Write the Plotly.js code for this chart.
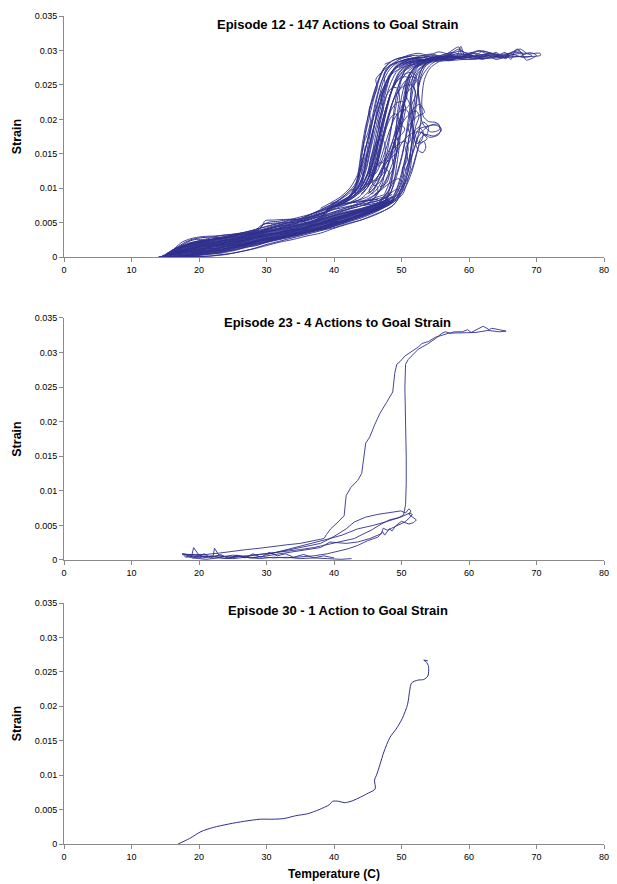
<!DOCTYPE html>
<html>
<head>
<meta charset="utf-8">
<script src="https://cdn.plot.ly/plotly-3.0.1.min.js"></script>
<style>
  html, body { margin: 0; padding: 0; background: #ffffff; }
  #chart { width: 617px; height: 884px; }
</style>
</head>
<body>
<div id="chart"></div>
<script>
// ---------------- Data ----------------
const panelTitles = [
  'Episode 12 - 147 Actions to Goal Strain',
  'Episode 23 - 4 Actions to Goal Strain',
  'Episode 30 - 1 Action to Goal Strain'
];
const xAxisTitle = 'Temperature (C)';
const yAxisTitle = 'Strain';
const xTickVals = [0, 10, 20, 30, 40, 50, 60, 70, 80];
const xTickText = ['0', '10', '20', '30', '40', '50', '60', '70', '80'];
const yTickVals = [0, 0.005, 0.01, 0.015, 0.02, 0.025, 0.03, 0.035];
const yTickText = ['0', '0.005', '0.01', '0.015', '0.02', '0.025', '0.03', '0.035'];

// Episode 12: full / partial heating-cooling passes of [temperature, strain]
const ep12Passes = [
  [[14,0],[15.5,0.0004],[17,0.0009],[18.5,0.0012],[20,0.0015],[22,0.0018],[24,0.0021],[26,0.0025],[28,0.0029],[30,0.0033],[32,0.0036],[34,0.004],[36,0.0044],[38,0.0049],[40,0.0054],[42,0.006],[44,0.0065],[46,0.0071],[47.5,0.0076],[48.5,0.0083],[49.2,0.0095],[49.8,0.011],[50.3,0.013],[50.8,0.0155],[51.2,0.018],[51.8,0.0205],[52.3,0.0235],[53,0.0262],[54.5,0.0281],[56,0.0288],[58,0.0292],[60,0.029],[62,0.0294],[63,0.0293],[61,0.0291],[58,0.029],[55,0.0288],[52,0.0286],[50,0.0282],[48.8,0.0272],[48,0.0255],[47.3,0.0232],[46.6,0.0205],[46,0.018],[45.4,0.0155],[44.8,0.0128],[44,0.0106],[42.8,0.0092],[41,0.0079],[39,0.0068],[37,0.006],[35,0.0052],[33,0.0046],[31,0.004],[29,0.0035],[27,0.0029],[25,0.0024],[23,0.002],[21,0.0016],[19,0.0012],[17,0.0006]],
  [[15,0.0002],[17,0.0004],[19,0.0007],[21,0.001],[23,0.0014],[25,0.0017],[27,0.0021],[29,0.0026],[31,0.003],[33,0.0034],[35,0.0037],[37,0.0042],[39,0.0046],[41,0.0052],[43,0.0058],[45,0.0064],[46.8,0.0072],[48.3,0.0078],[49.4,0.0088],[50.2,0.0104],[50.9,0.0128],[51.4,0.0158],[51.8,0.019],[52.2,0.0222],[52.6,0.0252],[53.4,0.0275],[55,0.0287],[57,0.0293],[59,0.0295],[61,0.0292],[63,0.0296],[65,0.0293],[67,0.0297],[69,0.0295],[70.5,0.0296],[70.6,0.0293],[68,0.0291],[65,0.0292],[62,0.029],[59,0.0291],[56,0.0289],[53,0.0287],[51,0.0286],[49.5,0.0281],[48.5,0.0268],[47.8,0.0245],[47.2,0.022],[46.7,0.0192],[46.2,0.0165],[45.6,0.0138],[44.8,0.0115],[43.8,0.0098],[42.3,0.0085],[40.5,0.0074],[38.5,0.0064],[36,0.0056],[33.5,0.0049],[31,0.0043],[28.5,0.0036],[26,0.0031],[23.5,0.0027],[21,0.0022],[19,0.0018],[17.5,0.0014],[16,0.0008],[14.5,0.0002]],
  [[18,0.0003],[20,0.0006],[22,0.0009],[24,0.0013],[26,0.0018],[28,0.0022],[30,0.0025],[32,0.0029],[34,0.0032],[36,0.0037],[38,0.0042],[40,0.0047],[42,0.0054],[44,0.006],[46,0.0067],[47.6,0.0074],[48.8,0.0085],[49.6,0.01],[50.2,0.0118],[50.6,0.0138],[51,0.0158],[50.6,0.0168],[49.8,0.0166],[48.8,0.0158],[47.9,0.0145],[47,0.0128],[46.2,0.011],[45.2,0.0096],[44,0.0085],[42,0.0077],[40,0.007],[38,0.0063],[36,0.0057],[34,0.0052],[32,0.0047],[30,0.0041],[28,0.0036],[26,0.0032],[24,0.0028],[22,0.0025],[20,0.0021],[18,0.0015],[16.5,0.0009],[15,0.0003]],
  [[16,0.0001],[18,0.0003],[20,0.0008],[22,0.0011],[24,0.0016],[26,0.002],[28,0.0023],[30,0.0028],[32,0.0031],[34,0.0035],[36,0.0039],[38,0.0044],[40,0.005],[42,0.0055],[44,0.0062],[46,0.0069],[47.8,0.0079],[49,0.0093],[49.8,0.0115],[50.5,0.0142],[51.1,0.0172],[51.5,0.02],[51.9,0.0225],[52,0.0242],[51.4,0.025],[50.3,0.0248],[49.3,0.0238],[48.5,0.022],[47.8,0.0198],[47.2,0.0175],[46.6,0.0152],[45.9,0.013],[45,0.0112],[44,0.0098],[42.5,0.0086],[40.5,0.0077],[38.5,0.0068],[36.5,0.006],[34.5,0.0054],[32.5,0.0049],[30.5,0.0044],[28.5,0.0038],[26.5,0.0034],[24.5,0.003],[22.5,0.0027],[20.5,0.0023],[18.5,0.0019],[17,0.0013]],
  [[14.5,0.0001],[16.5,0.0006],[18.5,0.001],[20.5,0.0013],[22.5,0.0016],[24.5,0.0019],[26.5,0.0024],[28.5,0.0028],[30.5,0.0032],[32.5,0.0038],[34.5,0.0041],[36.5,0.0045],[38.5,0.005],[40.5,0.0055],[42.5,0.0062],[44.5,0.0068],[46.2,0.0074],[47.4,0.008],[48.2,0.009],[48.8,0.0106],[49.2,0.0128],[49.6,0.0155],[49.9,0.0185],[50.3,0.0215],[50.7,0.0245],[51.5,0.027],[52.8,0.0284],[54.5,0.029],[56.5,0.0294],[58.5,0.0305],[59,0.0293],[61,0.0296],[62.5,0.0291],[64,0.0297],[65.5,0.0288],[66,0.0296],[67.5,0.0299],[68,0.0293],[66,0.029],[63,0.0289],[60,0.0287],[57,0.0289],[54,0.0286],[51.5,0.0284],[49.5,0.0278],[48.2,0.0265],[47.3,0.024],[46.5,0.0212],[45.8,0.0185],[45.1,0.0158],[44.4,0.0132],[43.6,0.011],[42.4,0.0094],[40.8,0.0083],[39,0.0072],[37,0.0064],[35,0.0056],[33,0.0052],[31,0.0047],[29,0.0042],[27,0.0037],[25,0.0032],[23,0.0028],[21,0.0025],[19,0.002],[17.3,0.0014],[15.8,0.0007]],
  [[30,0.0024],[32,0.0028],[34,0.0033],[36,0.0036],[38,0.004],[40,0.0045],[42,0.0051],[44,0.0057],[45.8,0.0064],[47.2,0.0071],[48.4,0.008],[49.4,0.0094],[50.3,0.0114],[51,0.0138],[51.6,0.0165],[52.1,0.019],[52.6,0.0205],[52.2,0.0212],[51.2,0.0208],[50.2,0.0196],[49.4,0.018],[48.7,0.016],[48.1,0.0138],[47.4,0.0118],[46.6,0.0102],[45.6,0.0092],[45.2,0.0097],[46,0.011],[47,0.0124],[48,0.0142],[48.9,0.0165],[49.7,0.0192],[50.3,0.022],[50.9,0.0248],[51.8,0.027],[53.2,0.0283],[55,0.0288],[57,0.0291],[58.5,0.0289],[56,0.0287],[53.5,0.0285],[51,0.0282],[49.2,0.0274],[47.9,0.0258],[46.9,0.0235],[46,0.0208],[45.2,0.0178],[44.5,0.015],[43.9,0.0125],[43,0.0104],[41.5,0.0089],[39.5,0.0076],[37.5,0.0066],[35.5,0.0058],[33.5,0.0051],[31.5,0.0045],[29.5,0.0039]],
  [[38,0.0039],[40,0.0043],[42,0.0049],[44,0.0054],[46,0.0061],[47.5,0.0068],[48.8,0.0076],[49.6,0.0086],[50.3,0.01],[50.8,0.0118],[51.3,0.0138],[51.9,0.0158],[52.5,0.0175],[53.3,0.0185],[54.5,0.0192],[55.8,0.0188],[55.5,0.0178],[54.2,0.0174],[53.2,0.018],[52.3,0.0182],[51.2,0.0178],[50.2,0.0168],[49.3,0.0152],[48.5,0.0132],[47.7,0.0113],[46.8,0.0098],[45.6,0.0087],[44,0.0078],[42,0.007],[40,0.0063],[38,0.0057],[36,0.0051],[34,0.0046]],
  [[20,0.0005],[22,0.0008],[24,0.0012],[26,0.0015],[28,0.0019],[30,0.0022],[32,0.0026],[34,0.003],[36,0.0035],[38,0.004],[40,0.0046],[42,0.0053],[44,0.0059],[45.8,0.0066],[47,0.0074],[47.8,0.0086],[48.4,0.0104],[48.9,0.0128],[49.3,0.0155],[49.7,0.0182],[50,0.021],[50.4,0.0236],[51,0.026],[52,0.0276],[53.5,0.0286],[55.5,0.0292],[57.5,0.0297],[59.5,0.0293],[61.5,0.0299],[63,0.0294],[64.5,0.0292],[63,0.0289],[60.5,0.0288],[58,0.0286],[55,0.0284],[52.5,0.0281],[50.3,0.0276],[48.6,0.0266],[47.4,0.0248],[46.5,0.0225],[45.7,0.0198],[45,0.017],[44.3,0.0143],[43.7,0.0118],[43,0.0098],[41.8,0.0085],[40,0.0075],[38,0.0067],[36,0.0061],[34,0.0056],[32,0.005],[30,0.0045],[28,0.0039],[26,0.0034],[24,0.003],[22,0.0026],[20,0.0022],[18,0.0018],[16,0.001]],
  [[36,0.0045],[38,0.0055],[39,0.0068],[40.5,0.0075],[41.8,0.0082],[43,0.0096],[43.6,0.0118],[44,0.0145],[44.5,0.0172],[45.1,0.0198],[45.7,0.0222],[46.3,0.0245],[46.9,0.0263],[47.6,0.0276],[48.8,0.0286],[50.5,0.0291],[52.5,0.0293],[54,0.0291],[52,0.0288],[50,0.0285],[48.5,0.0279],[47.6,0.0268],[46.9,0.0252],[46.2,0.0228],[45.6,0.02],[45,0.0172],[44.3,0.0145],[43.5,0.012],[42.4,0.0101],[41,0.0088],[39.5,0.0079],[38,0.0071]],
  [[44,0.0063],[46,0.007],[47.8,0.0077],[49.2,0.0083],[50.2,0.0092],[50.8,0.0108],[51.3,0.0128],[51.6,0.0152],[52,0.0175],[52.6,0.0186],[53.8,0.019],[55.5,0.0193],[55.6,0.0185],[54.3,0.0182],[53.1,0.0195],[52.7,0.0215],[52.5,0.0238],[52.6,0.026],[53.3,0.0278],[54.8,0.0288],[57,0.0291],[59,0.029],[57.5,0.0287],[55,0.0286],[52.5,0.0284],[50.5,0.0279],[49.2,0.0268],[48.3,0.025],[47.6,0.0228],[47,0.0202],[46.4,0.0176],[45.8,0.015],[45.1,0.0126],[44.3,0.0107],[43.2,0.0092],[41.5,0.0082],[39.5,0.0073]],
  [[46,0.0072],[47.3,0.008],[48.3,0.0092],[49.1,0.0112],[49.8,0.0135],[50.4,0.016],[50.9,0.0186],[51.2,0.0205],[50.7,0.0214],[49.8,0.0212],[49,0.0202],[48.3,0.0186],[47.6,0.0165],[47,0.0145],[46.6,0.0132],[47.2,0.0138],[48,0.0152],[48.8,0.0172],[49.6,0.0196],[50.3,0.0222],[50.9,0.0246],[51.2,0.0258],[50.6,0.0262],[49.6,0.0258],[48.7,0.0245],[48,0.0226],[47.3,0.0202],[46.7,0.0178],[46.1,0.0152],[45.5,0.0128],[44.8,0.0108],[43.8,0.0094],[42.3,0.0083],[40.5,0.0074]],
  [[15,0],[17,0.0002],[19,0.0005],[21,0.0008],[23,0.0011],[25,0.0014],[27,0.0018],[29,0.0021],[31,0.0026],[33,0.003],[35,0.0034],[37,0.0038],[39,0.0043],[41,0.0048],[43,0.0055],[45,0.0062],[46.7,0.0069],[48,0.0076],[49,0.0084],[49.7,0.0094],[50.1,0.0108],[49.6,0.0114],[48.6,0.011],[47.5,0.0102],[46.3,0.0092],[44.8,0.0084],[43,0.0076],[41,0.0069],[39,0.0062],[37,0.0056],[35,0.005],[33,0.0045],[31,0.004],[29,0.0036],[27,0.0031],[25,0.0027],[23,0.0023],[21,0.0019],[19,0.0014],[17,0.0008],[15.5,0.0003]],
  [[15.5,0.0005],[16.5,0.0014],[17.5,0.0022],[18.8,0.0027],[20.5,0.003],[22.5,0.0031],[24.5,0.0033],[26.5,0.0035],[28.5,0.0038],[29.3,0.0045],[29.8,0.0053],[31,0.0054],[33,0.0055],[34.5,0.0055],[35,0.0052],[37,0.0057],[38.5,0.0062],[39,0.007],[40,0.0074],[41.5,0.0078],[43,0.0081],[44.5,0.0082],[46,0.0084],[47.5,0.0088],[48.5,0.0094],[47.5,0.0091],[46,0.0086],[44,0.0078],[42,0.0072],[40,0.0066],[38,0.006],[36,0.0054],[34,0.0049],[32,0.0045],[30,0.004],[28,0.0034],[26,0.0029],[24,0.0025],[22,0.0022],[20,0.0018],[18,0.0013],[16.5,0.0008]],
  [[14,0.0001],[16,0.0001],[18,0.0001],[20,0.0001],[22,0.0002],[24,0.0004],[26,0.0008],[28,0.0012],[30,0.0017],[32,0.0022],[34,0.0026],[36,0.0031],[38,0.0035],[40,0.0042],[42,0.0048],[44,0.0054],[46,0.0062],[47.5,0.0068],[48.6,0.0074],[49.3,0.0082],[49.7,0.0093],[49.5,0.0099],[48.8,0.0096],[47.8,0.0088],[46.5,0.0079],[45,0.0072],[43,0.0066],[41,0.0059],[39,0.0052],[37,0.0046],[35,0.004],[33,0.0035],[31,0.0029],[29,0.0024],[27,0.0018],[25,0.0013],[23,0.0008],[21,0.0004],[19,0.0002],[17,0.0001]],
  [[47,0.0085],[48,0.0095],[48.8,0.011],[49.5,0.0128],[50.1,0.015],[50.6,0.0175],[51,0.02],[51.4,0.0225],[51.8,0.0248],[52.2,0.0262],[51.6,0.0268],[50.5,0.0266],[49.5,0.0258],[48.6,0.0242],[47.8,0.022],[47.1,0.0196],[46.5,0.017],[45.9,0.0146],[45.3,0.0125],[44.5,0.011],[45,0.0106],[46,0.0112],[47,0.0125],[47.8,0.0142],[48.5,0.0162],[49.1,0.0185],[49.6,0.021],[50,0.0232],[50.5,0.0252],[51.3,0.0268],[52.5,0.0279],[54,0.0285],[55.5,0.0287],[54,0.0284],[52,0.028],[50.4,0.0272],[49.3,0.0258],[48.4,0.0238],[47.7,0.0214],[47.1,0.019],[46.4,0.0162],[45.7,0.0136],[45,0.0114],[44,0.0098],[42.6,0.0087]],
  [[50,0.0284],[51.5,0.0289],[53,0.0292],[54.5,0.0295],[56,0.0291],[57.5,0.0297],[58.5,0.0302],[59.5,0.0296],[61,0.0293],[62,0.0299],[63.5,0.0295],[65,0.0291],[66.5,0.0298],[67.2,0.0302],[68,0.0294],[69,0.0297],[70,0.0293],[68.5,0.0286],[67.8,0.0295],[66,0.0293],[64,0.0287],[62.5,0.0294],[61,0.0288],[59,0.0291],[57,0.0285],[55,0.029],[53,0.0286],[51,0.0283],[49.6,0.0275]],
  [[48,0.0078],[49.5,0.0088],[50.6,0.0102],[51.4,0.012],[52,0.014],[52.5,0.016],[52.8,0.0172],[53.5,0.0178],[54.8,0.0176],[55.9,0.0184],[55.2,0.0195],[54,0.0197],[53.2,0.0205],[53,0.0222],[53.1,0.024],[53.4,0.0258],[54.2,0.0274],[55.6,0.0284],[57.5,0.029],[59.5,0.0294],[60.5,0.0292],[58,0.0288],[55.5,0.0286],[53,0.0284],[51.2,0.0279],[49.9,0.027],[49,0.0255],[48.3,0.0235],[47.7,0.021],[47.2,0.0185],[46.7,0.016],[46.1,0.0135],[45.3,0.0113],[44.2,0.0097],[42.8,0.0086],[41,0.0077],[39,0.0069]],
  [[33,0.0043],[35,0.0047],[37,0.0053],[38.5,0.0062],[39.2,0.0072],[40.3,0.0078],[41.5,0.0083],[42.6,0.0093],[43.3,0.0108],[43.7,0.013],[44.1,0.0158],[44.6,0.0186],[45.2,0.021],[45.9,0.0236],[46.6,0.0258],[47.3,0.0273],[48.3,0.0283],[49.8,0.0289],[51.5,0.0292],[50,0.0288],[48.7,0.0281],[47.8,0.0271],[47.1,0.0256],[46.5,0.0236],[46,0.0212],[45.5,0.0186],[45,0.016],[44.6,0.0136],[44.2,0.0116],[43.5,0.0101],[42.5,0.009],[41,0.0082],[39.5,0.0076],[38,0.0069],[36,0.006]],
  [[47.5,0.0092],[48.2,0.0108],[48.7,0.0126],[49.2,0.0146],[49.6,0.0168],[50.1,0.0192],[50.6,0.0218],[50.2,0.0226],[49.3,0.0224],[48.5,0.0214],[47.9,0.0198],[47.3,0.0176],[46.8,0.0152],[46.3,0.0128],[45.7,0.0111],[46.4,0.0112],[47.3,0.0122],[48.1,0.0138],[48.8,0.0158],[49.4,0.018],[50,0.0204],[50.6,0.0228],[51.3,0.0252],[52.2,0.027],[53.6,0.0281],[52,0.0278],[50.7,0.0272],[49.6,0.0262],[48.7,0.0246],[48,0.0226],[47.4,0.0204],[46.9,0.018],[46.4,0.0156],[45.9,0.0132],[45.3,0.0112],[44.4,0.0098]],
  [[45,0.0092],[45.8,0.0098],[46.5,0.011],[47.2,0.0128],[47.6,0.015],[47.4,0.0168],[46.8,0.0172],[46.2,0.0165],[45.6,0.015],[45.2,0.013],[45.4,0.0118],[46.2,0.0122],[47,0.0138],[47.8,0.016],[48.4,0.0185],[49,0.021],[49.5,0.0235],[49.9,0.0255],[50.5,0.0272],[51.5,0.0283],[50,0.0281],[48.8,0.0272],[47.8,0.0255],[47,0.0232],[46.3,0.0205],[45.6,0.0178],[45,0.015],[44.5,0.0125],[43.9,0.0105],[42.8,0.0092]],
  [[49,0.0083],[49.8,0.0092],[50.5,0.0108],[51,0.0125],[51.3,0.0145],[51.5,0.0165],[51.9,0.0183],[52.6,0.0188],[53.2,0.0182],[53,0.017],[52.3,0.0165],[51.8,0.0172],[51.5,0.019],[51.3,0.021],[51.3,0.023],[51.6,0.025],[52.2,0.0266],[53,0.0276],[54.5,0.0284],[53.5,0.0281],[52.2,0.0278],[51,0.027],[50,0.0258],[49.2,0.024],[48.5,0.0218],[47.9,0.0195],[47.3,0.017],[46.7,0.0145],[46,0.0122],[45.2,0.0104],[44,0.0092]],
  [[46.5,0.0078],[47.5,0.0088],[48.2,0.01],[48.6,0.0118],[48.9,0.014],[49.1,0.0162],[49.2,0.0185],[49.4,0.021],[49.7,0.0232],[49.4,0.0245],[48.6,0.0246],[47.8,0.0235],[47.1,0.0215],[46.5,0.0192],[46,0.0168],[45.5,0.0142],[44.9,0.012],[44.1,0.0104],[43.2,0.0095],[42.5,0.009],[43.5,0.0102],[44.3,0.012],[44.9,0.0145],[45.5,0.017],[46.1,0.0195],[46.8,0.022],[47.5,0.0242],[48.3,0.0262],[49.3,0.0276],[50.8,0.0285],[52.5,0.029],[51,0.0287]],
  [[50,0.0098],[50.8,0.0112],[51.6,0.013],[52.2,0.015],[52.6,0.0162],[53.3,0.0168],[53.6,0.016],[53.2,0.0152],[52.5,0.0155],[52,0.0168],[51.7,0.0188],[51.5,0.021],[51.4,0.0232],[51.5,0.0252],[51.9,0.0268],[52.8,0.028],[54.3,0.0288],[56,0.0291],[54.5,0.0288],[52.5,0.0285],[50.8,0.0279],[49.6,0.0268],[48.8,0.025],[48.2,0.0228],[47.6,0.0205],[47,0.0182],[46.4,0.0158],[45.8,0.0135],[45.1,0.0115],[44.1,0.0099],[42.9,0.0089]],
  [[44.5,0.0075],[45.4,0.008],[46.2,0.0088],[46.8,0.0098],[47.3,0.0112],[47.5,0.0128],[47.2,0.0138],[46.6,0.0136],[46,0.0126],[45.6,0.0112],[45.9,0.0104],[46.7,0.0108],[47.5,0.012],[48.2,0.0138],[48.8,0.016],[49.3,0.0184],[49.6,0.02],[49.2,0.0208],[48.5,0.0204],[47.9,0.0192],[47.3,0.0174],[46.8,0.0154],[46.2,0.0132],[45.6,0.0114],[44.8,0.0099],[43.8,0.0088],[42.5,0.008]],
  [[47.5,0.028],[48.3,0.0283],[47.5,0.0275],[46.8,0.0262],[46.1,0.0245],[45.5,0.0225],[45,0.0202],[44.6,0.0178],[44.2,0.0152],[43.9,0.0128],[43.6,0.0108],[43,0.0095],[42,0.0085],[41,0.008],[42.2,0.0088],[43.3,0.0098],[44.1,0.0112],[44.8,0.0132],[45.3,0.0155],[45.8,0.018],[46.2,0.0205],[46.7,0.0232],[47.3,0.0255],[48.2,0.0272],[49.5,0.0283],[51,0.0288],[53,0.029]],
  [[50.5,0.0125],[51.2,0.014],[51.9,0.0158],[52.5,0.0178],[52.9,0.02],[52.8,0.022],[52.5,0.0238],[52.4,0.0255],[52.8,0.027],[53.8,0.0282],[55.5,0.0289],[57.5,0.0293],[56,0.029],[54,0.0286],[52.2,0.0282],[50.9,0.0275],[50,0.0262],[49.4,0.0242],[49,0.022],[48.6,0.0195],[48.2,0.017],[47.7,0.0145],[47.1,0.0122],[46.3,0.0105],[45.2,0.0093]],
  [[38.5,0.0058],[39.2,0.0068],[40,0.0073],[41,0.0076],[42,0.0082],[42.8,0.0088],[43.2,0.0095],[42.6,0.0098],[41.8,0.0092],[41,0.0085],[40.2,0.008],[39.5,0.0078],[40.5,0.0074],[41.8,0.0077],[43,0.0081],[44,0.0084],[45,0.0088],[45.8,0.0095],[46.3,0.0104],[46.5,0.0096],[46,0.0087],[45,0.0078]],
  [[52,0.0288],[53.5,0.029],[55,0.0293],[56.2,0.0289],[57.4,0.0295],[58.2,0.0292],[58.8,0.0306],[59.3,0.0294],[60.5,0.0297],[61.8,0.029],[63,0.0296],[64.2,0.0293],[65.4,0.0297],[66.2,0.0287],[66.8,0.0299],[67.6,0.0302],[68.4,0.0297],[69.3,0.0292],[68,0.029],[66.5,0.0294],[65,0.0289],[63.5,0.0292],[62,0.0287],[60.5,0.0291],[59,0.0288],[57.5,0.0292],[56,0.0286],[54.5,0.029],[53,0.0285]],
  [[49.5,0.0287],[51,0.0293],[52.5,0.0296],[54,0.0293],[55.5,0.0298],[57,0.0295],[58.5,0.0299],[60,0.0296],[61.5,0.03],[63,0.0297],[64.5,0.0294],[66,0.0296],[64.5,0.0291],[63,0.0293],[61.5,0.029],[60,0.0293],[58.5,0.029],[57,0.0294],[55.5,0.029],[54,0.0292],[52.5,0.0289],[51,0.0288],[49.8,0.0284]],
  [[43.8,0.0098],[44.3,0.0112],[44.1,0.0128],[44.6,0.0146],[44.4,0.0164],[45,0.018],[45.4,0.0198],[45.2,0.0214],[45.8,0.023],[46.4,0.0246],[46.2,0.0258],[47,0.0268],[48,0.0276],[49.5,0.0283],[48.3,0.0279],[47.4,0.0266],[47.6,0.0248],[47,0.0232],[47.3,0.0214],[46.6,0.0196],[46.9,0.018],[46.3,0.016],[46.5,0.0142],[45.8,0.0124],[45.2,0.0108],[44.2,0.0096]],
  [[48.5,0.0082],[49.8,0.0096],[50.4,0.0112],[50.1,0.0128],[50.9,0.0142],[50.6,0.0158],[51.4,0.0172],[51,0.0188],[51.8,0.0202],[51.5,0.022],[52.1,0.0236],[51.8,0.0252],[52.4,0.0266],[53.5,0.0279],[52.2,0.0276],[51.2,0.0264],[50.5,0.0248],[50.8,0.0232],[49.9,0.0216],[50.1,0.0198],[49.2,0.0182],[49.5,0.0164],[48.6,0.0148],[48.8,0.013],[47.9,0.0115],[47.3,0.0102],[46,0.0091]],
  [[46.8,0.0102],[47.8,0.0108],[48.2,0.0122],[47.5,0.0132],[48.4,0.0144],[49.3,0.0152],[48.8,0.0166],[49.8,0.0176],[50.5,0.0186],[49.7,0.0196],[50.3,0.0212],[51.2,0.0222],[50.6,0.0236],[51.5,0.0246],[52.3,0.0258],[51.5,0.0262],[50.4,0.0254],[49.5,0.024],[48.7,0.0226],[48.1,0.0206],[47.5,0.0186],[46.9,0.0162],[46.4,0.0138],[45.8,0.0118],[45,0.0102]],
  [[52.5,0.0188],[53.3,0.0196],[54,0.0188],[53.6,0.0176],[52.9,0.0182],[53.8,0.0172],[52.6,0.0166],[52,0.0178],[51.6,0.0196],[52.4,0.0205],[53.4,0.021],[52.7,0.0222],[52,0.0218],[51.2,0.0206]]
];

// Episode 12: extra passes inside the dense low-temperature band
const ep12BandPasses = [
  [[14.5,0.0001],[15.8,0.0004],[17,0.0006],[18.2,0.0009],[19,0.0008],[20.3,0.001],[21.5,0.0013],[22.4,0.0012],[23.6,0.0015],[25,0.0018],[26.2,0.0017],[27.5,0.0021],[29,0.0025],[30.2,0.0028],[31.5,0.0027],[33,0.0033],[34.6,0.0035],[36,0.0041],[37.2,0.004],[38.8,0.0046],[40.3,0.0052],[41.5,0.0051],[43,0.0059],[44.6,0.0064],[46,0.0071],[47.3,0.0077],[48.3,0.0082]],
  [[15,0.0003],[16.2,0.0008],[17.4,0.0014],[18.6,0.0016],[19.8,0.0019],[21,0.0021],[22.2,0.0022],[23.5,0.0024],[24.8,0.0026],[26,0.0028],[27.3,0.0032],[28.6,0.0034],[30,0.0037],[31.3,0.0039],[32.7,0.0041],[34,0.0042],[35.4,0.0046],[36.8,0.005],[38.2,0.0054],[39.6,0.0059],[41,0.0063],[42.4,0.0066],[43.8,0.007],[45.2,0.0074],[46.6,0.0078],[47.8,0.0084],[48.6,0.0088]],
  [[15.3,0.0006],[16.4,0.0012],[17.6,0.0018],[18.5,0.0023],[19.6,0.0026],[20.8,0.0026],[21.7,0.0028],[23,0.0029],[24.2,0.0031],[25.4,0.0033],[26.6,0.0033],[27.8,0.0037],[29,0.0041],[29.6,0.0048],[30.6,0.0049],[32,0.005],[33.4,0.005],[34.8,0.0052],[36.2,0.0055],[37.5,0.006],[38.6,0.0064],[39.9,0.0069],[41.3,0.0072],[42.7,0.0075],[44.1,0.0077],[45.5,0.008],[46.9,0.0083],[48,0.0087]],
  [[14.2,0],[16,0.0001],[17.8,0.0002],[19.5,0.0003],[21,0.0005],[22.5,0.0006],[24,0.0009],[25.5,0.0011],[27,0.0015],[28.5,0.0017],[30,0.0022],[31.5,0.0026],[33,0.0029],[34.5,0.0032],[36,0.0036],[37.5,0.004],[39,0.0044],[40.5,0.0049],[42,0.0055],[43.5,0.006],[45,0.0066],[46.5,0.0071],[47.8,0.0077],[48.8,0.0083]],
  [[16,0.0004],[17.2,0.0008],[18.4,0.0012],[19.6,0.0014],[20.8,0.0017],[22,0.0018],[23.2,0.0019],[24.4,0.0022],[25.6,0.0023],[26.8,0.0026],[28,0.0029],[29.2,0.0032],[30.4,0.0034],[31.6,0.0035],[32.8,0.0038],[34,0.0039],[35.2,0.0042],[36.4,0.0046],[37.6,0.0049],[38.8,0.0053],[40,0.0057],[41.2,0.006],[42.4,0.0063],[43.6,0.0066],[44.8,0.0071],[46,0.0075],[47.2,0.0079],[48.4,0.0085]],
  [[48,0.0084],[46.8,0.008],[45.5,0.0077],[44.2,0.0075],[43,0.0072],[41.8,0.0069],[40.6,0.0066],[39.4,0.0062],[38.2,0.0058],[37,0.0053],[35.8,0.005],[35.2,0.0054],[34.4,0.0049],[33.2,0.0046],[32,0.0045],[30.8,0.0043],[29.6,0.004],[28.4,0.0036],[27.2,0.0034],[26,0.0033],[24.8,0.003],[23.6,0.0028],[22.4,0.0027],[21.2,0.0025],[20,0.0024],[18.8,0.0021],[17.6,0.0016],[16.4,0.001],[15.2,0.0004]],
  [[47.5,0.0075],[46.2,0.0069],[45,0.0065],[43.8,0.0061],[42.6,0.0057],[41.4,0.0053],[40.2,0.0049],[39,0.0046],[37.8,0.0042],[36.6,0.0039],[35.4,0.0036],[34.2,0.0034],[33,0.0031],[31.8,0.0029],[30.6,0.0027],[29.4,0.0025],[28.2,0.0022],[27,0.0019],[25.8,0.0016],[24.6,0.0014],[23.4,0.0011],[22.2,0.0009],[21,0.0008],[19.8,0.0005],[18.6,0.0004],[17.4,0.0002],[16.2,0.0001]],
  [[49,0.0088],[47.8,0.0083],[46.6,0.0077],[45.4,0.0073],[44.2,0.0068],[43,0.0066],[41.8,0.0061],[40.6,0.0058],[39.4,0.0054],[38.2,0.005],[37,0.0047],[35.8,0.0043],[34.6,0.0041],[33.4,0.0039],[32.2,0.0036],[31,0.0034],[29.8,0.003],[28.6,0.0028],[27.4,0.0025],[26.2,0.0022],[25,0.002],[23.8,0.0018],[22.6,0.0016],[21.4,0.0014],[20.2,0.0011],[19,0.0009],[17.8,0.0006],[16.6,0.0003],[15.4,0.0001]],
  [[46.5,0.0084],[45,0.0082],[43.5,0.008],[42,0.0078],[40.5,0.0076],[39.5,0.0072],[38.8,0.0066],[37.8,0.0063],[36.5,0.0059],[35.3,0.0056],[34,0.0055],[32.8,0.0054],[31.6,0.0052],[30.4,0.0051],[29.2,0.0046],[28.4,0.004],[27.2,0.0037],[26,0.0035],[24.8,0.0033],[23.6,0.0032],[22.4,0.003],[21.2,0.0029],[20,0.0028],[19,0.0026],[18,0.0022],[17,0.0016],[16,0.001],[15,0.0004]],
  [[14.8,0],[16.5,0],[18.3,0.0001],[20,0.0001],[21.8,0.0002],[23.4,0.0004],[25,0.0006],[26.6,0.0009],[28.2,0.0013],[29.8,0.0018],[31.4,0.0022],[33,0.0026],[34.6,0.003],[36.2,0.0034],[37.8,0.0038],[39.4,0.0043],[41,0.0049],[42.6,0.0054],[44.2,0.006],[45.8,0.0066],[47.2,0.0071],[48.4,0.0077],[49.2,0.0083]],
  [[15.6,0.0002],[16.8,0.0005],[18,0.0007],[19.2,0.0011],[20.4,0.0012],[21.6,0.0016],[22.8,0.0017],[24,0.0019],[25.2,0.0021],[26.4,0.0024],[27.6,0.0027],[28.8,0.003],[30,0.0031],[31.2,0.0033],[32.4,0.0035],[33.6,0.0037],[34.8,0.0039],[36,0.0042],[37.2,0.0045],[38.4,0.0048],[39.6,0.0051],[40.8,0.0055],[42,0.0058],[43.2,0.0063],[44.4,0.0067],[45.6,0.007],[46.8,0.0074],[48,0.0079],[49,0.0086]],
  [[48.6,0.0091],[47.4,0.0086],[46.2,0.0081],[45,0.0078],[43.8,0.0074],[42.6,0.0071],[41.4,0.0067],[40.2,0.0062],[39,0.0058],[37.8,0.0055],[36.6,0.0051],[35.4,0.0048],[34.2,0.0045],[33,0.0043],[31.8,0.0041],[30.6,0.0038],[29.4,0.0034],[28.2,0.0031],[27,0.0029],[25.8,0.0027],[24.6,0.0024],[23.4,0.0022],[22.2,0.002],[21,0.0018],[19.8,0.0016],[18.6,0.0013],[17.4,0.001],[16.2,0.0006],[15,0.0002]]
];

// Episode 12: outline of the densest, fully inked core of the low band
const ep12BandCore = [[15.5,0.0006],[17,0.0015],[18.5,0.0021],[20,0.0024],[22,0.0026],[24,0.0028],[26,0.0031],[28,0.0035],[30,0.004],[32,0.0043],[34,0.0046],[36,0.005],[38,0.0056],[40,0.0062],[42,0.0067],[44,0.0071],[46,0.0077],[48,0.0083],[48.8,0.008],[47,0.0071],[45,0.0064],[43,0.0057],[41,0.005],[39,0.0044],[37,0.0038],[35,0.0033],[33,0.0028],[31,0.0023],[29,0.0018],[27,0.0013],[25,0.0009],[23,0.0005],[21,0.0003],[19,0.0002],[17,0.0002],[15.5,0.0006]];

// Episode 23: passes of [temperature, strain]
const ep23Passes = [
  [[17.5,0.0009],[19,0.0007],[21,0.0005],[23,0.0006],[25,0.0004],[27,0.0006],[29,0.0008],[31,0.001],[33,0.0013],[35,0.0015],[37,0.0018],[39,0.0022],[41,0.0026],[43,0.0031],[44,0.0036],[45.5,0.0043],[47,0.0052],[48.2,0.0058],[49.5,0.0061],[50.3,0.0065],[50.6,0.008],[50.7,0.011],[50.7,0.015],[50.6,0.02],[50.5,0.025],[50.6,0.0283],[51,0.029],[51.6,0.0296],[52.5,0.0305],[53.8,0.0312],[55,0.032],[56,0.0328],[56.5,0.033],[57.2,0.0328],[57.8,0.033],[59,0.033],[59.8,0.0333],[60.3,0.0329],[61.2,0.0333],[62.1,0.0338],[63,0.0333],[63.3,0.0335],[64,0.0334],[65.5,0.0331],[64.5,0.033],[62.8,0.0332],[61,0.0329],[59,0.0328],[57,0.0328],[56,0.0325],[55,0.0322],[54,0.0316],[53,0.0313],[52.5,0.0308],[51.5,0.0302],[50.5,0.0295],[49.8,0.0287],[49.3,0.0283],[49,0.027],[48.7,0.0243],[47.8,0.0228],[46.8,0.0212],[46,0.0195],[45.3,0.0178],[44.7,0.0169],[44.4,0.015],[44.1,0.0125],[43.5,0.0115],[42.5,0.0105],[41.8,0.0093],[41.6,0.0075],[41.5,0.0064],[40.6,0.0055],[39.5,0.0045],[38.9,0.0037],[38.5,0.0031],[37,0.0028],[35,0.0024],[33,0.0022],[31,0.0019],[29,0.0017],[27,0.0015],[25,0.0012],[23,0.001],[21,0.0008],[19,0.0008],[17.5,0.0008]],
  [[42.6,0.0002],[41,0.0001],[39,0.0002],[37,0.0003],[35,0.0002],[33,0.0004],[31,0.0003],[29,0.0005],[27.5,0.0003],[26,0.0006],[24.5,0.0004],[23,0.0006],[22.3,0.0017],[22.1,0.0006],[21,0.0004],[20,0.0007],[19.2,0.0018],[18.9,0.0005],[18,0.0004],[17.6,0.0009],[19,0.0006],[20.5,0.0003],[22,0.0005],[24,0.0002],[26,0.0005],[28,0.0003],[30,0.0006],[32,0.0009],[34,0.0012],[36,0.0014],[38,0.0018],[39.4,0.0026],[41.8,0.0024],[43.5,0.0026],[45.3,0.0031],[47,0.0038],[47.3,0.0046],[47.9,0.0043],[48.7,0.0047],[50.5,0.0055],[51.3,0.0062],[51.6,0.0066],[51.2,0.0068],[50.2,0.0064],[49.9,0.0062],[47.6,0.0055],[45.8,0.005],[43.5,0.0045],[41.2,0.0036],[39,0.003],[37,0.0025],[35,0.0019],[33,0.0014],[31,0.001],[29,0.0008],[27,0.0005],[25,0.0007],[23,0.0004],[21,0.0006],[19,0.0003],[18,0.0006]],
  [[30,0.0008],[32,0.0012],[34,0.0016],[36,0.0019],[38,0.0024],[40,0.0034],[41.8,0.0045],[43,0.0055],[44.7,0.0062],[46.5,0.0066],[48.7,0.0069],[49.9,0.0071],[50.6,0.0068],[51.1,0.0074],[51.4,0.0071],[51.1,0.0066],[52.2,0.0058],[51.8,0.0054],[51.1,0.0052],[50,0.0056],[49.2,0.005],[48.6,0.0042],[48.2,0.0045],[47.5,0.0036],[47.2,0.0041],[46.5,0.0033],[45,0.0028],[43.5,0.0021],[42,0.0016],[40.5,0.0012],[39,0.0009],[37,0.0006],[35,0.0005],[33,0.0003],[31,0.0004],[29,0.0002],[27,0.0004],[25,0.0002],[23,0.0003],[21,0.0001],[19,0.0003]],
  [[18,0.0007],[19.5,0.0004],[20.8,0.0009],[21.7,0.0003],[23.2,0.0008],[24.4,0.0002],[25.6,0.0007],[26.8,0.0003],[28,0.0009],[29.2,0.0004],[30.4,0.0011],[31.6,0.0006],[32.8,0.0009],[34,0.0004],[35.5,0.0008],[37,0.0003],[38.5,0.0006],[40,0.0003]]
];

// Episode 30: a single pass of [temperature, strain]
const ep30Points = [[16.9,0],[18.6,0.0008],[20.3,0.0018],[22.1,0.0024],[24.4,0.0029],[26.7,0.0033],[29.1,0.0036],[30.8,0.0036],[32.6,0.0037],[34.3,0.0041],[36.1,0.0044],[37.8,0.005],[39.3,0.0057],[39.8,0.0062],[40.7,0.0062],[41.6,0.006],[42.8,0.0063],[43.9,0.0068],[45.1,0.0074],[46.1,0.008],[46,0.0093],[46.3,0.01],[46.8,0.0115],[47.4,0.0134],[48.3,0.0155],[49.2,0.0167],[50.1,0.0182],[50.9,0.0203],[51.2,0.0222],[51.5,0.0234],[52.4,0.0238],[53.3,0.0239],[53.9,0.0244],[54,0.0258],[53.7,0.0264],[53.3,0.0267],[53.9,0.0266]];

// ---------------- Build the figure ----------------
const lineColor = '#30308e';
const traces = [];
traces.push({
  type: 'scatter', mode: 'lines',
  x: ep12BandCore.map(function (p) { return p[0]; }),
  y: ep12BandCore.map(function (p) { return p[1]; }),
  xaxis: 'x', yaxis: 'y', fill: 'toself', fillcolor: 'rgba(36,36,125,0.8)',
  line: { color: 'rgba(36,36,125,0.8)', width: 0.5 }, showlegend: false, hoverinfo: 'skip'
});
function addPasses(passes, xa, ya, width, shape) {
  passes.forEach(function (pass) {
    traces.push({
      type: 'scatter', mode: 'lines',
      x: pass.map(function (p) { return p[0]; }),
      y: pass.map(function (p) { return p[1]; }),
      xaxis: xa, yaxis: ya,
      line: { color: lineColor, width: width, shape: shape, smoothing: 0.8 },
      showlegend: false, hoverinfo: 'skip'
    });
  });
}
addPasses(ep12BandPasses, 'x', 'y', 1.0, 'spline');
addPasses(ep12Passes, 'x', 'y', 0.9, 'spline');
addPasses(ep23Passes, 'x2', 'y2', 0.9, 'linear');
addPasses([ep30Points], 'x3', 'y3', 1.0, 'spline');

const fontFam = '"Liberation Sans", Arial, sans-serif';
function xAxis(anchor, withTitle) {
  const a = {
    anchor: anchor, domain: [0, 1], range: [0, 80],
    tickmode: 'array', tickvals: xTickVals, ticktext: xTickText,
    showline: true, linecolor: '#8a8a8a', linewidth: 1,
    ticks: 'outside', ticklen: 4, tickcolor: '#8a8a8a', tickwidth: 1,
    showgrid: false, zeroline: false,
    tickfont: { family: fontFam, size: 9, color: '#000' }
  };
  if (withTitle) {
    a.title = { text: xAxisTitle, font: { family: fontFam, size: 12, color: '#000', weight: 'bold' }, standoff: 8 };
  }
  return a;
}
function yAxis(anchor, domain) {
  return {
    anchor: anchor, domain: domain, range: [0, 0.035],
    tickmode: 'array', tickvals: yTickVals, ticktext: yTickText,
    showline: true, linecolor: '#8a8a8a', linewidth: 1,
    ticks: 'outside', ticklen: 4, tickcolor: '#8a8a8a', tickwidth: 1,
    showgrid: false, zeroline: false,
    tickfont: { family: fontFam, size: 9, color: '#000' },
    title: { text: yAxisTitle, font: { family: fontFam, size: 12.5, color: '#000', weight: 'bold' }, standoff: 10 }
  };
}

const titleY = [0.9895, 0.6302, 0.2825];
const annotations = panelTitles.map(function (t, i) {
  return {
    text: '<b>' + t + '</b>', xref: 'paper', yref: 'paper',
    x: 0.507, y: titleY[i], xanchor: 'center', yanchor: 'middle',
    showarrow: false, font: { family: fontFam, size: 13, color: '#000' }
  };
});

const layout = {
  width: 617, height: 884,
  margin: { l: 64, r: 13, t: 16, b: 40 },
  paper_bgcolor: '#ffffff', plot_bgcolor: '#ffffff',
  showlegend: false,
  xaxis: xAxis('y', false),
  yaxis: yAxis('x', [0.7086, 1]),
  xaxis2: xAxis('y2', false),
  yaxis2: yAxis('x2', [0.343, 0.6353]),
  xaxis3: xAxis('y3', true),
  yaxis3: yAxis('x3', [0, 0.291]),
  annotations: annotations
};

Plotly.newPlot('chart', traces, layout, { displayModeBar: false, staticPlot: true });
</script>
</body>
</html>
